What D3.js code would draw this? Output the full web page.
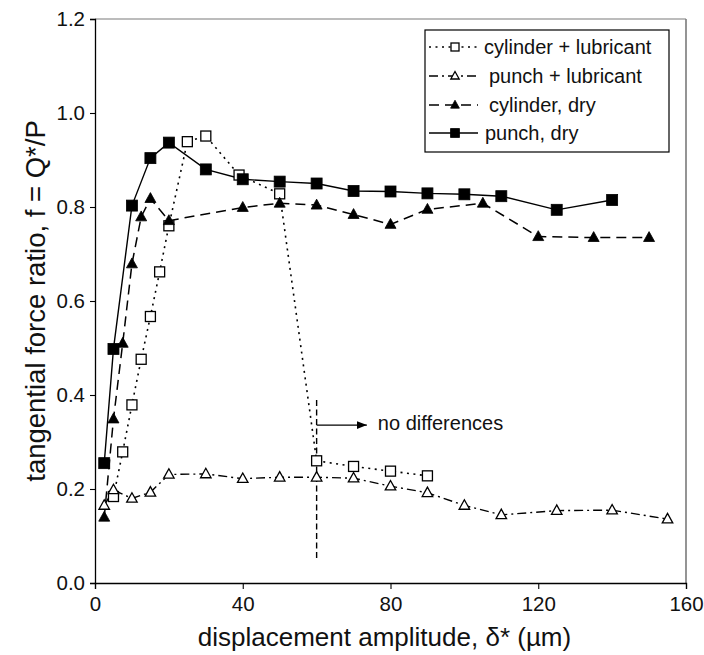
<!DOCTYPE html>
<html>
<head>
<meta charset="utf-8">
<script src="https://cdn.jsdelivr.net/npm/d3@7"></script>
<style>
  html, body { margin: 0; padding: 0; background: #fff; }
  svg { display: block; font-family: "Liberation Sans", Arial, sans-serif; }
</style>
</head>
<body>
<svg id="chart" width="704" height="655"></svg>
<script>
// Displacement amplitude (µm) and tangential force ratio for each test condition
const cylLubX = [5, 7.5, 10, 12.5, 15, 17.5, 20, 25, 30, 39, 50, 60, 70, 80, 90];
const cylLubY = [0.184, 0.279, 0.379, 0.476, 0.567, 0.662, 0.760, 0.939, 0.951, 0.868, 0.828, 0.260, 0.248, 0.238, 0.228];

const punchLubX = [2.5, 5, 10, 15, 20, 30, 40, 50, 60, 70, 80, 90, 100, 110, 125, 140, 155];
const punchLubY = [0.165, 0.198, 0.180, 0.193, 0.231, 0.232, 0.222, 0.225, 0.225, 0.223, 0.206, 0.192, 0.165, 0.145, 0.154, 0.155, 0.136];

const cylDryX = [2.5, 5, 7.5, 10, 12.5, 15, 20, 40, 50, 60, 70, 80, 90, 105, 120, 135, 150];
const cylDryY = [0.140, 0.349, 0.510, 0.679, 0.779, 0.818, 0.771, 0.799, 0.808, 0.804, 0.784, 0.763, 0.795, 0.808, 0.737, 0.735, 0.735];

const punchDryX = [2.5, 5, 10, 15, 20, 30, 40, 50, 60, 70, 80, 90, 100, 110, 125, 140];
const punchDryY = [0.255, 0.498, 0.803, 0.904, 0.937, 0.880, 0.859, 0.854, 0.850, 0.834, 0.833, 0.829, 0.827, 0.823, 0.794, 0.815];

const seriesNames = ["cylinder + lubricant", "punch + lubricant", "cylinder, dry", "punch, dry"];
const xTicks = [0, 40, 80, 120, 160];
const yTicks = [0.0, 0.2, 0.4, 0.6, 0.8, 1.0, 1.2];

// "no differences" marker: vertical line at 60 µm and an arrow pointing right
const noDiffX = 60;
const noDiffRange = [0.053, 0.394];
const arrowY = 0.336;
const arrowEndX = 73.6;
const noDiffLabel = "no differences";

const svg = d3.select("#chart");
const x = d3.scaleLinear().domain([0, 160]).range([95, 686]);
const y = d3.scaleLinear().domain([0, 1.2]).range([583, 19]);

// Plot frame (top and right edges in grey)
svg.append("line").attr("x1", x(0)).attr("x2", x(160)).attr("y1", y(1.2)).attr("y2", y(1.2))
  .attr("stroke", "#7a7a7a").attr("stroke-width", 1.2);
svg.append("line").attr("x1", x(160)).attr("x2", x(160)).attr("y1", y(1.2)).attr("y2", y(0))
  .attr("stroke", "#7a7a7a").attr("stroke-width", 1.6);

// Axes
const xAxis = svg.append("g").attr("transform", `translate(0,${y(0)})`)
  .call(d3.axisBottom(x).tickValues(xTicks).tickFormat(d3.format("d")).tickSizeOuter(0).tickSize(6).tickPadding(7));
const yAxis = svg.append("g").attr("transform", `translate(${x(0)},0)`)
  .call(d3.axisLeft(y).tickValues(yTicks).tickFormat(d3.format(".1f")).tickSizeOuter(0).tickSize(5).tickPadding(5));
[xAxis, yAxis].forEach(g => {
  g.select(".domain").attr("stroke", "#000").attr("stroke-width", 1.3);
  g.selectAll(".tick line").attr("stroke", "#000").attr("stroke-width", 1.1);
  g.selectAll(".tick text").attr("font-size", 20.5).attr("fill", "#111")
    .attr("font-family", "'Liberation Sans', Arial, sans-serif");
});

// Axis titles
svg.append("text").attr("x", (x(0) + x(160)) / 2 - 6).attr("y", 646)
  .attr("text-anchor", "middle").attr("font-size", 26).attr("fill", "#111")
  .text("displacement amplitude, δ* (µm)");
svg.append("text").attr("transform", `translate(45,${(y(0) + y(1.2)) / 2}) rotate(-90)`)
  .attr("text-anchor", "middle").attr("font-size", 27.5).attr("fill", "#111")
  .text("tangential force ratio, f = Q*/P");

// Series styles
const styles = [
  { xs: cylLubX, ys: cylLubY, dash: "2,4.5", width: 1.6, marker: "square", fill: "#fff" },
  { xs: punchLubX, ys: punchLubY, dash: "9,4,2,4", width: 1.4, marker: "triangle", fill: "#fff" },
  { xs: cylDryX, ys: cylDryY, dash: "10,6", width: 1.5, marker: "triangle", fill: "#000" },
  { xs: punchDryX, ys: punchDryY, dash: null, width: 1.4, marker: "square", fill: "#000" }
];

function drawMarker(g, type, fill, cx, cy, scale) {
  const s = scale || 1;
  if (type === "square") {
    const a = (fill === "#000" ? 11 : 10) * s;
    g.append("rect").attr("x", cx - a / 2).attr("y", cy - a / 2).attr("width", a).attr("height", a)
      .attr("fill", fill).attr("stroke", "#000").attr("stroke-width", fill === "#000" ? 0.8 : 1.3);
  } else {
    const a = (fill === "#000" ? 11 : 10.5) * s;
    const h = a * 0.9;
    const pts = [[cx, cy - h * 0.6], [cx - a / 2, cy + h * 0.4], [cx + a / 2, cy + h * 0.4]];
    g.append("polygon").attr("points", pts.map(p => p.join(",")).join(" "))
      .attr("fill", fill).attr("stroke", "#000").attr("stroke-width", fill === "#000" ? 0.8 : 1.3)
      .attr("stroke-linejoin", "miter");
  }
}

const line = d3.line().x(d => x(d[0])).y(d => y(d[1]));

// Vertical "no differences" marker line
svg.append("line").attr("x1", x(noDiffX)).attr("x2", x(noDiffX))
  .attr("y1", y(noDiffRange[0])).attr("y2", y(noDiffRange[1]))
  .attr("stroke", "#000").attr("stroke-width", 1.4).attr("stroke-dasharray", "6,3.5");

// Series lines first, markers on top
styles.forEach(s => {
  const pts = s.xs.map((v, i) => [v, s.ys[i]]);
  svg.append("path").attr("d", line(pts)).attr("fill", "none").attr("stroke", "#000")
    .attr("stroke-width", s.width).attr("stroke-dasharray", s.dash);
});
styles.forEach(s => {
  const g = svg.append("g");
  s.xs.forEach((v, i) => drawMarker(g, s.marker, s.fill, x(v), y(s.ys[i])));
});

// Arrow and label
svg.append("defs").append("marker").attr("id", "arrowhead")
  .attr("viewBox", "0 0 10 10").attr("refX", 10).attr("refY", 5)
  .attr("markerWidth", 10).attr("markerHeight", 10).attr("markerUnits", "userSpaceOnUse")
  .attr("orient", "auto")
  .append("path").attr("d", "M0,1 L10,5 L0,9 Z").attr("fill", "#000");
svg.append("line").attr("x1", x(noDiffX)).attr("x2", x(arrowEndX))
  .attr("y1", y(arrowY)).attr("y2", y(arrowY))
  .attr("stroke", "#000").attr("stroke-width", 1.3).attr("marker-end", "url(#arrowhead)");
svg.append("text").attr("x", x(arrowEndX) + 11).attr("y", y(arrowY) + 5)
  .attr("font-size", 20).attr("fill", "#111").text(noDiffLabel);

// Legend
const legend = svg.append("g");
legend.append("rect").attr("x", 425).attr("y", 30).attr("width", 244).attr("height", 122)
  .attr("fill", "#fff").attr("stroke", "#000").attr("stroke-width", 1.2);
const rowY = [47, 76, 105, 133];
const textX = [484, 489, 489, 485];
styles.forEach((s, i) => {
  const ly = rowY[i];
  legend.append("line").attr("x1", 429).attr("x2", 478).attr("y1", ly).attr("y2", ly)
    .attr("stroke", "#000").attr("stroke-width", s.width).attr("stroke-dasharray", s.dash);
  drawMarker(legend, s.marker, s.fill, 455, ly, 0.8);
  legend.append("text").attr("x", textX[i]).attr("y", ly + 7)
    .attr("font-size", 20).attr("fill", "#111").text(seriesNames[i]);
});
</script>
</body>
</html>
